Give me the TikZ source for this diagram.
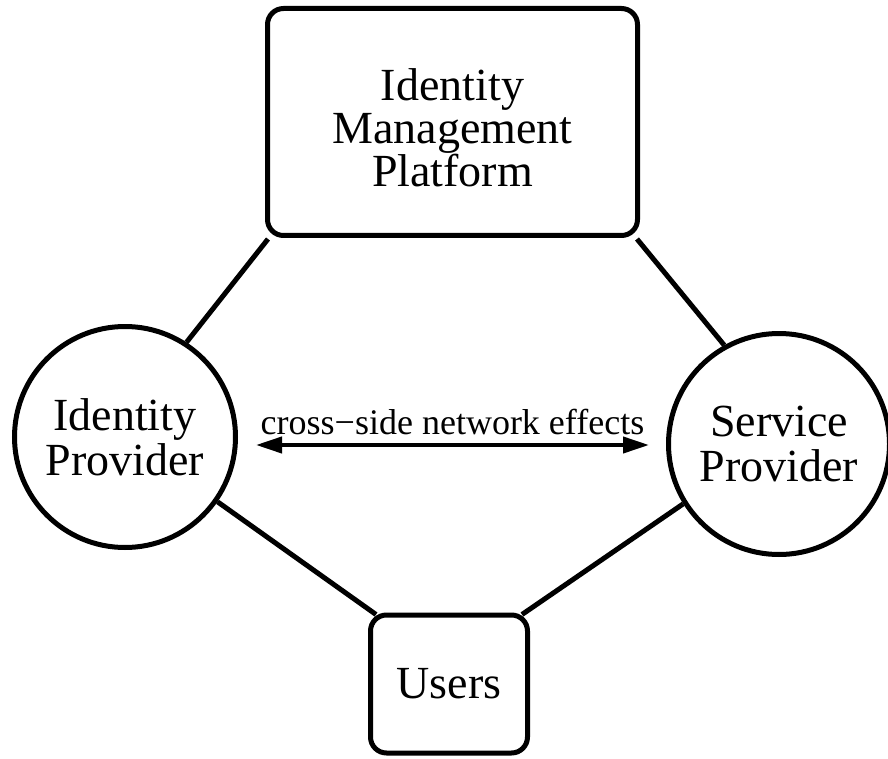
\documentclass[tikz,border=0pt]{standalone}
\usepackage{fontspec}
\setmainfont{Liberation Serif}
\usetikzlibrary{arrows.meta}
\begin{document}
\begin{tikzpicture}[x=1pt,y=-1pt,
  boxnode/.style={draw,line width=5pt,rounded corners=16pt,align=center,inner sep=0pt,
     font=\fontsize{46}{43}\selectfont},
  txtnode/.style={align=center,inner sep=0pt,font=\fontsize{46}{43}\selectfont},
  circnode/.style={draw,circle,line width=5pt,align=center,inner sep=0pt,
     font=\fontsize{46}{45}\selectfont},
  link/.style={line width=5pt}]
\useasboundingbox (0,0) rectangle (888,759);
\node[boxnode,minimum width=370pt,minimum height=227pt] (imp) at (452.5,122) {};
\node[txtnode] (imptext) at ([yshift=-6pt]imp.center) {Identity\\Management\\Platform};
\node[circnode,minimum size=221pt] (idp) at (125,437) {Identity\\Provider};
\node[circnode,minimum size=221pt] (sp) at (779,444) {Service\\Provider};
\node[boxnode,minimum width=157pt,minimum height=138pt] (users) at (449,684) {Users};
\draw[link] ([xshift=3pt,yshift=-1pt]imp.south west) -- (idp.57);
\draw[link] ([xshift=-3pt,yshift=-1pt]imp.south east) -- (sp.119);
\draw[link] (idp.-35) -- ([xshift=8pt,yshift=-2pt]users.north west);
\draw[link] (sp.-148) -- ([xshift=-8pt,yshift=-2pt]users.north east);
\coordinate (al) at (256,445);
\coordinate (ar) at (649,445);
\draw[line width=4pt,{Triangle[length=26pt,width=16pt]}-{Triangle[length=26pt,width=16pt]}] (al) -- (ar)
  node[midway,above=5pt,font=\fontsize{36}{36}\selectfont] (lbl) {cross−side network effects};
\end{tikzpicture}
\end{document}
